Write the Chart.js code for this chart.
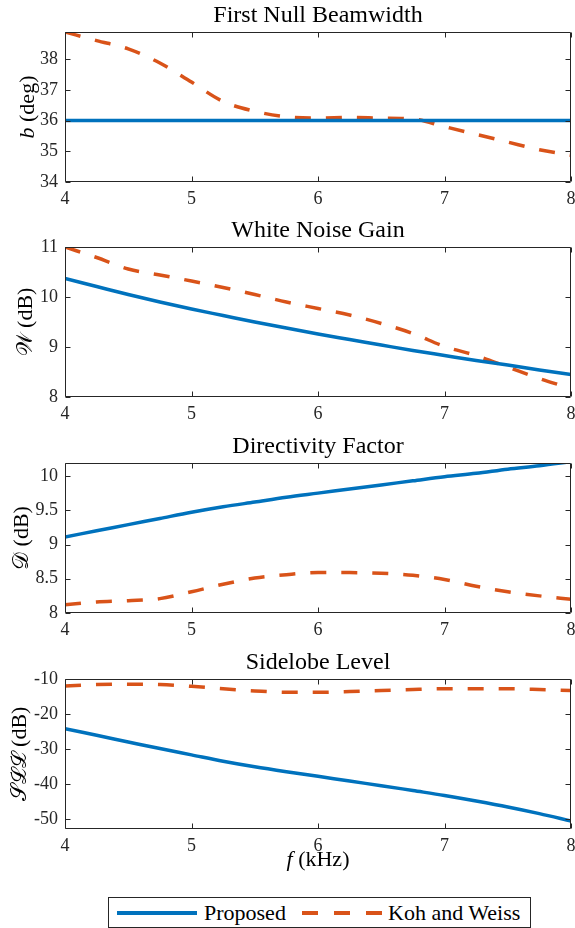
<!DOCTYPE html>
<html lang="en">
<head>
  <meta charset="UTF-8">
  <title>Beamformer Comparison</title>
  <script src="https://cdn.jsdelivr.net/npm/chart.js"></script>
  <style>
    body {
      margin: 0;
      background: #fff;
      width: 575px;
      height: 928px;
      position: relative;
      overflow: hidden;
      font-family: "Liberation Serif", "DejaVu Serif", serif;
    }
    .panel { position: absolute; left: 0; }
    .legend {
      position: absolute;
      left: 108px;
      top: 897px;
      width: 423px;
      height: 31px;
      box-sizing: border-box;
      border: 1px solid #262626;
      font-size: 22px;
      color: #000;
    }
    .legend span { position: absolute; top: 1px; line-height: 28px; }
    .legend .line { position: absolute; top: 13px; height: 4px; width: 80px; }
    .legend .solid { left: 8px; background: #0072BD; }
    .legend .dashed { left: 193px; background: repeating-linear-gradient(90deg, #D95319 0 16px, transparent 16px 32px); }
  </style>
</head>
<body>
  <div class="panel" style="top:0px"><canvas id="fnbw" width="575" height="210"></canvas></div>
  <div class="panel" style="top:215px"><canvas id="wng" width="575" height="210"></canvas></div>
  <div class="panel" style="top:431px"><canvas id="df" width="575" height="210"></canvas></div>
  <div class="panel" style="top:647px"><canvas id="sll" width="575" height="238"></canvas></div>

  <div class="legend">
    <div class="line solid"></div>
    <span style="left:95px">Proposed</span>
    <div class="line dashed"></div>
    <span style="left:279px">Koh and Weiss</span>
  </div>

  <script>
    // frequency axis (kHz)
    const freq = [4, 4.25, 4.5, 4.75, 5, 5.25, 5.5, 5.75, 6, 6.25, 6.5, 6.75, 7, 7.25, 7.5, 7.75, 8];
    const xTicks = [4, 5, 6, 7, 8];

    // First null beamwidth (deg)
    const fnbwProposed = [36, 36, 36, 36, 36, 36, 36, 36, 36, 36, 36, 36, 36, 36, 36, 36, 36];
    const fnbwKoh = [38.88, 38.6, 38.33, 37.87, 37.25, 36.62, 36.3, 36.12, 36.08, 36.1, 36.08, 36.05, 35.8, 35.55, 35.3, 35.05, 34.87];
    const fnbwTicks = [34, 35, 36, 37, 38];

    // White noise gain (dB)
    const wngProposed = [10.37, 10.21, 10.05, 9.9, 9.76, 9.63, 9.5, 9.38, 9.26, 9.15, 9.04, 8.93, 8.83, 8.73, 8.64, 8.54, 8.45];
    const wngKoh = [11.0, 10.79, 10.56, 10.44, 10.32, 10.19, 10.05, 9.9, 9.77, 9.64, 9.47, 9.27, 9.01, 8.83, 8.6, 8.37, 8.17];
    const wngTicks = [8, 9, 10, 11];

    // Directivity factor (dB)
    const dfProposed = [9.11, 9.2, 9.29, 9.38, 9.47, 9.55, 9.62, 9.69, 9.75, 9.81, 9.87, 9.93, 9.99, 10.04, 10.1, 10.15, 10.21];
    const dfKoh = [8.12, 8.16, 8.18, 8.21, 8.31, 8.42, 8.51, 8.56, 8.59, 8.59, 8.58, 8.55, 8.49, 8.39, 8.31, 8.25, 8.2];
    const dfTicks = [8, 8.5, 9, 9.5, 10];

    // Sidelobe level (dB)
    const sllProposed = [-24.2, -26.1, -28.0, -29.9, -31.7, -33.5, -35.1, -36.5, -37.8, -39.2, -40.5, -41.9, -43.3, -44.9, -46.6, -48.5, -50.6];
    const sllKoh = [-12.0, -11.6, -11.5, -11.6, -12.1, -12.8, -13.4, -13.8, -13.8, -13.6, -13.3, -13.0, -12.8, -12.8, -12.8, -13.0, -13.3];
    const sllTicks = [-50, -40, -30, -20, -10];

    const BLUE = '#0072BD';
    const ORANGE = '#D95319';
    const INK = '#262626';
    const SERIF = '"Liberation Serif", "DejaVu Serif", serif';

    // MATLAB style box with inward ticks on all four sides
    const boxAndTicks = {
      id: 'boxAndTicks',
      afterDraw(chart) {
        const { ctx, chartArea: a, scales: { x, y } } = chart;
        const L = Math.round(a.left) + 0.5, R = Math.round(a.right) - 0.5;
        const T = Math.round(a.top) + 0.5, B = Math.round(a.bottom) - 0.5;
        ctx.save();
        ctx.strokeStyle = INK;
        ctx.lineWidth = 1;
        ctx.beginPath();
        x.ticks.forEach(t => {
          const px = Math.round(x.getPixelForValue(t.value)) + 0.5;
          ctx.moveTo(px, B); ctx.lineTo(px, B - 5);
          ctx.moveTo(px, T); ctx.lineTo(px, T + 5);
        });
        y.ticks.forEach(t => {
          const py = Math.round(y.getPixelForValue(t.value)) + 0.5;
          ctx.moveTo(L, py); ctx.lineTo(L + 5, py);
          ctx.moveTo(R, py); ctx.lineTo(R - 5, py);
        });
        ctx.rect(L, T, R - L, B - T);
        ctx.stroke();
        ctx.restore();
      }
    };

    // axis labels with mixed italic / upright parts
    function drawParts(ctx, parts, size) {
      let w = 0;
      parts.forEach(p => {
        ctx.font = (p[1] ? 'italic ' : '') + size + 'px ' + SERIF;
        w += ctx.measureText(p[0]).width;
      });
      let cx = -w / 2;
      parts.forEach(p => {
        ctx.font = (p[1] ? 'italic ' : '') + size + 'px ' + SERIF;
        ctx.fillText(p[0], cx, 0);
        cx += ctx.measureText(p[0]).width;
      });
    }

    const axisText = {
      id: 'axisText',
      afterDraw(chart, args, opts) {
        const { ctx, chartArea: a } = chart;
        ctx.save();
        ctx.fillStyle = '#000';
        ctx.textBaseline = 'middle';
        ctx.textAlign = 'left';
        if (opts.y) {
          ctx.save();
          ctx.translate(opts.y.x, (a.top + a.bottom) / 2);
          ctx.rotate(-Math.PI / 2);
          drawParts(ctx, opts.y.parts, 22);
          ctx.restore();
        }
        if (opts.x) {
          ctx.translate((a.left + a.right) / 2, opts.x.y);
          drawParts(ctx, opts.x.parts, 22);
        }
        ctx.restore();
      }
    };

    function pts(ys) {
      return freq.map((f, i) => ({ x: f, y: ys[i] }));
    }

    function panel(id, title, proposed, koh, yMin, yMax, yTicks, yLabel, xLabel) {
      const ctx = document.getElementById(id).getContext('2d');
      return new Chart(ctx, {
        type: 'line',
        data: {
          datasets: [
            {
              label: 'Proposed',
              data: pts(proposed),
              borderColor: BLUE,
              borderWidth: 3.5,
              pointRadius: 0,
              cubicInterpolationMode: 'monotone',
              clip: 0
            },
            {
              label: 'Koh and Weiss',
              data: pts(koh),
              borderColor: ORANGE,
              borderWidth: 3.5,
              borderDash: [16, 15],
              pointRadius: 0,
              cubicInterpolationMode: 'monotone',
              clip: 0
            }
          ]
        },
        options: {
          responsive: false,
          animation: false,
          layout: { padding: { left: 0, right: 4, top: 0, bottom: 0 } },
          plugins: {
            legend: { display: false },
            tooltip: { enabled: false },
            title: {
              display: true,
              fullSize: false,
              text: title,
              color: '#000',
              font: { family: SERIF, size: 24, weight: 'normal', lineHeight: '24px' },
              padding: { top: 4, bottom: 4 }
            },
            axisText: { y: yLabel, x: xLabel }
          },
          scales: {
            x: {
              type: 'linear',
              min: 4,
              max: 8,
              grid: { display: false, drawTicks: false },
              border: { display: false },
              afterBuildTicks: s => { s.ticks = xTicks.map(v => ({ value: v })); },
              afterFit: s => {
                s.height = xLabel ? 56 : 28;
                s.paddingLeft = 0;
                s.paddingRight = 4;
              },
              ticks: {
                color: INK,
                padding: 6,
                maxRotation: 0,
                autoSkip: false,
                font: { family: SERIF, size: 18 },
                callback: v => String(v)
              }
            },
            y: {
              min: yMin,
              max: yMax,
              grid: { display: false, drawTicks: false },
              border: { display: false },
              afterBuildTicks: s => { s.ticks = yTicks.map(v => ({ value: v })); },
              afterFit: s => { s.width = 65; },
              ticks: {
                color: INK,
                padding: 7,
                autoSkip: false,
                font: { family: SERIF, size: 18 },
                callback: v => String(v)
              }
            }
          }
        },
        plugins: [boxAndTicks, axisText]
      });
    }

    panel('fnbw', 'First Null Beamwidth', fnbwProposed, fnbwKoh, 34, 38.88, fnbwTicks,
      { x: 28, parts: [['b', true], [' (deg)', false]] });
    panel('wng', 'White Noise Gain', wngProposed, wngKoh, 8, 11, wngTicks,
      { x: 26, parts: [['\u{1D4B2}', false], [' (dB)', false]] });
    panel('df', 'Directivity Factor', dfProposed, dfKoh, 8, 10.19, dfTicks,
      { x: 22, parts: [['\u{1D49F}', false], [' (dB)', false]] });
    panel('sll', 'Sidelobe Level', sllProposed, sllKoh, -52.9, -10, sllTicks,
      { x: 20, parts: [['\u{1D4AE}\u2112\u2112', false], [' (dB)', false]] },
      { y: 213, parts: [['f', true], [' (kHz)', false]] });
  </script>
</body>
</html>
